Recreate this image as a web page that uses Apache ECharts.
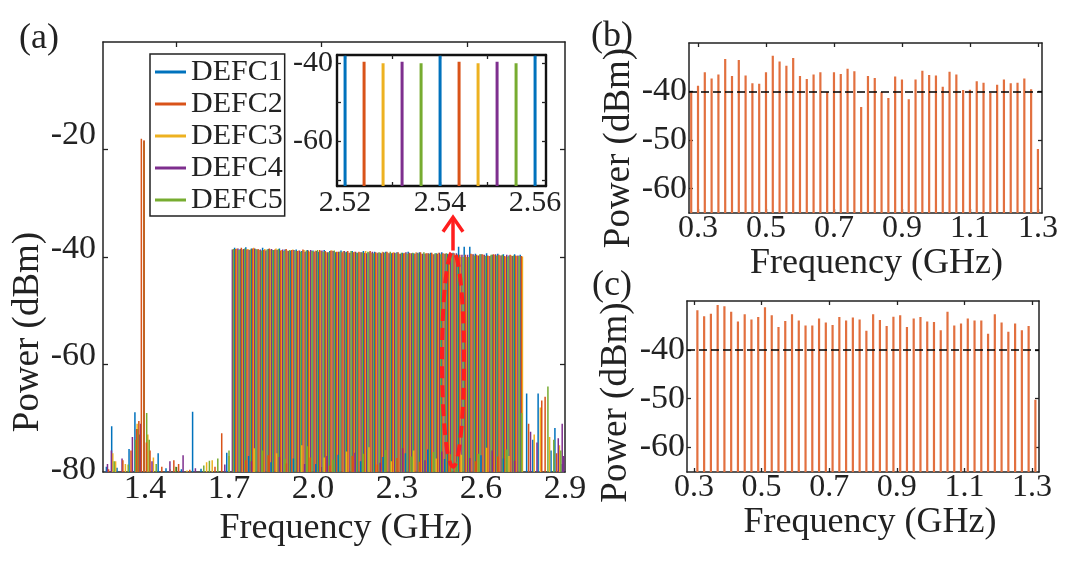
<!DOCTYPE html>
<html><head><meta charset="utf-8">
<script src="https://cdn.jsdelivr.net/npm/echarts@6/dist/echarts.min.js"></script>
<style>html,body{margin:0;padding:0;background:#fff}#c{width:1080px;height:562px}</style>
</head><body><div id="c"></div>
<script>
// ---------------- data ----------------
const seriesNames = ['DEFC1', 'DEFC2', 'DEFC3', 'DEFC4', 'DEFC5'];
const seriesColors = ['#0072BD', '#D95319', '#EDB120', '#7E2F8E', '#77AC30'];

// comb line frequencies of DEFC1 (GHz) and interleave offset of each DEFC (GHz)
const combBaseGHz = [1.72,1.74,1.76,1.78,1.80,1.82,1.84,1.86,1.88,1.90,
  1.92,1.94,1.96,1.98,2.00,2.02,2.04,2.06,2.08,2.10,
  2.12,2.14,2.16,2.18,2.20,2.22,2.24,2.26,2.28,2.30,
  2.32,2.34,2.36,2.38,2.40,2.42,2.44,2.46,2.48,2.50,
  2.52,2.54,2.56,2.58,2.60,2.62,2.64,2.66,2.68,2.70,2.72,2.74];
const combOffsetGHz = [0, 0.004, 0.008, -0.008, -0.004];

const combDefc1 = [-38.3,-38.5,-38.2,-38.4,-38.6,-38.3,-38.5,-38.7,-38.4,-38.6,
  -38.8,-38.6,-38.9,-38.7,-38.8,-39.0,-38.7,-38.9,-39.1,-38.8,
  -39.0,-38.9,-39.2,-38.9,-39.1,-39.0,-39.2,-39.0,-39.3,-39.1,
  -39.2,-39.0,-39.3,-39.1,-39.4,-39.2,-39.3,-39.1,-39.4,-39.2,
  -38.1,-38.1,-38.1,-39.4,-39.5,-39.3,-39.6,-39.4,-39.5,-39.7,-39.5,-39.6];
const combDefc2 = [-38.5,-38.3,-38.6,-38.4,-38.5,-38.7,-38.4,-38.6,-38.8,-38.5,
  -38.7,-38.9,-38.6,-38.8,-39.0,-38.7,-38.9,-38.8,-39.0,-39.1,
  -38.9,-39.1,-39.0,-39.2,-38.9,-39.1,-39.3,-39.0,-39.2,-39.1,
  -39.3,-39.2,-39.4,-39.1,-39.3,-39.2,-39.4,-39.3,-39.5,-39.3,
  -39.6,-39.6,-39.4,-39.6,-39.5,-39.7,-39.5,-39.6,-39.8,-39.6,-39.7,-39.8];
const combDefc3 = [-38.4,-38.6,-38.5,-38.3,-38.7,-38.5,-38.6,-38.4,-38.7,-38.8,
  -38.6,-38.8,-38.7,-39.0,-38.8,-38.9,-39.1,-38.8,-39.0,-38.9,
  -39.2,-39.0,-39.1,-38.9,-39.2,-39.3,-39.0,-39.2,-39.1,-39.4,
  -39.2,-39.3,-39.1,-39.4,-39.3,-39.5,-39.2,-39.4,-39.3,-39.6,
  -40.0,-40.0,-39.5,-39.7,-39.6,-39.8,-39.6,-39.7,-39.9,-39.7,-39.8,-39.9];
const combDefc4 = [-38.6,-38.4,-38.5,-38.7,-38.4,-38.6,-38.8,-38.5,-38.7,-38.6,
  -38.9,-38.7,-38.8,-39.0,-38.7,-38.9,-38.8,-39.1,-38.9,-39.0,
  -38.9,-39.2,-39.0,-39.1,-39.3,-39.0,-39.2,-39.1,-39.3,-39.2,
  -39.4,-39.1,-39.3,-39.2,-39.4,-39.3,-39.5,-39.2,-39.4,-39.5,
  -39.3,-39.6,-39.6,-39.5,-39.7,-39.6,-39.8,-39.5,-39.7,-39.6,-39.8,-39.7];
const combDefc5 = [-38.5,-38.7,-38.4,-38.6,-38.5,-38.8,-38.6,-38.7,-38.5,-38.9,
  -38.7,-38.8,-39.0,-38.8,-38.9,-38.7,-39.0,-39.1,-38.8,-39.0,
  -39.1,-38.9,-39.2,-39.1,-39.0,-39.3,-39.1,-39.2,-39.0,-39.3,
  -39.2,-39.4,-39.2,-39.3,-39.1,-39.4,-39.3,-39.5,-39.3,-39.4,
  -39.6,-40.0,-40.0,-39.7,-39.5,-39.8,-39.6,-39.7,-39.6,-39.9,-39.7,-39.8];

// residual spectral lines outside the comb: [GHz, dBm]
const otherDefc1 = [[1.262,-79.0],[1.281,-71.5],[1.300,-79.2],[1.343,-75.7],[1.364,-68.9],[1.380,-73.0],[1.3965,-18.6],
  [1.447,-76.5],[1.475,-79.3],[1.530,-79.5],[1.570,-68.8],[1.600,-79.4],[1.692,-76.4],[1.770,-77.0],[1.850,-78.2],
  [1.930,-77.5],[2.010,-78.5],[2.090,-76.8],[2.170,-78.0],[2.250,-77.2],[2.330,-76.5],[2.410,-75.8],[2.470,-77.6],
  [2.600,-76.9],[2.680,-77.5],[2.763,-65.4],[2.785,-74.0],[2.804,-65.4],[2.850,-76.0],[2.864,-71.8],[2.890,-78.5]];
const otherDefc2 = [[1.270,-79.5],[1.321,-77.8],[1.350,-76.0],[1.370,-72.0],[1.378,-70.5],[1.387,-18.0],[1.3965,-18.3],[1.405,-74.5],
  [1.418,-76.0],[1.460,-79.0],[1.503,-77.8],[1.520,-78.5],[1.560,-79.6],[1.650,-79.0],[1.674,-72.8],[1.760,-77.8],
  [1.840,-76.9],[1.905,-78.4],[1.990,-77.3],[2.060,-78.8],[2.140,-77.0],[2.230,-78.6],[2.300,-77.4],[2.380,-78.1],
  [2.490,-76.7],[2.580,-78.0],[2.660,-77.1],[2.770,-71.0],[2.817,-66.7],[2.829,-66.0],[2.870,-76.5]];
const otherDefc3 = [[1.285,-76.5],[1.295,-78.0],[1.330,-78.5],[1.372,-71.0],[1.3962,-18.6],[1.410,-73.0],[1.430,-77.3],
  [1.490,-79.5],[1.550,-79.7],[1.620,-78.2],[1.640,-77.8],[1.700,-77.0],[1.790,-75.6],[1.870,-76.5],[1.960,-75.0],
  [2.040,-77.3],[2.120,-76.2],[2.200,-75.4],[2.280,-78.0],[2.360,-76.0],[2.440,-77.5],[2.530,-76.8],[2.620,-75.5],
  [2.700,-77.0],[2.790,-73.0],[2.812,-68.0],[2.845,-73.5],[2.880,-75.0]];
const otherDefc4 = [[1.266,-78.5],[1.280,-76.0],[1.318,-77.5],[1.355,-73.5],[1.384,-71.0],[1.397,-18.4],[1.425,-78.0],
  [1.489,-78.0],[1.536,-76.9],[1.580,-79.3],[1.685,-78.6],[1.780,-78.0],[1.880,-77.2],[1.970,-78.5],[2.050,-77.0],
  [2.150,-76.4],[2.240,-78.3],[2.320,-75.6],[2.400,-77.8],[2.460,-76.2],[2.560,-77.4],[2.640,-76.0],[2.720,-77.9],
  [2.777,-72.5],[2.800,-74.5],[2.876,-73.7],[2.890,-71.0],[2.895,-77.0]];
const otherDefc5 = [[1.290,-78.0],[1.340,-78.6],[1.366,-74.0],[1.374,-72.0],[1.3968,-18.5],[1.406,-69.0],[1.415,-74.0],
  [1.440,-78.5],[1.510,-79.0],[1.610,-78.8],[1.630,-77.9],[1.660,-77.5],[1.700,-76.0],[1.820,-76.0],[1.900,-77.6],
  [1.980,-75.2],[2.070,-77.7],[2.180,-76.6],[2.260,-75.9],[2.350,-77.1],[2.430,-76.3],[2.510,-78.2],[2.590,-76.6],
  [2.690,-75.8],[2.745,-69.0],[2.839,-64.1],[2.860,-74.0],[2.885,-76.0]];

// panel (b) and (c)
const bFreqGHz = [0.28,0.30,0.32,0.34,0.36,0.38,0.40,0.42,0.44,0.46,0.48,0.50,0.52,0.54,0.56,0.58,0.60,0.62,0.64,0.66,
  0.68,0.70,0.72,0.74,0.76,0.78,0.80,0.82,0.84,0.86,0.88,0.90,0.92,0.94,0.96,0.98,1.00,1.02,1.04,1.06,
  1.08,1.10,1.12,1.14,1.16,1.18,1.20,1.22,1.24,1.26,1.28,1.30];
const bPowerDbm = [-40.1,-38.8,-36.0,-37.3,-36.5,-33.3,-36.8,-33.5,-36.7,-38.3,-38.4,-36.0,-32.6,-33.8,-34.7,-33.1,
  -36.8,-37.4,-36.5,-36.0,-40.1,-36.0,-36.4,-35.3,-35.8,-43.2,-36.8,-37.2,-40.1,-41.3,-36.9,-37.5,-41.6,-37.5,
  -35.7,-36.6,-36.7,-39.0,-35.9,-36.5,-39.7,-39.6,-37.9,-38.2,-40.3,-38.6,-37.5,-38.3,-38.2,-37.3,-39.5,-51.8];
const cFreqGHz = [0.31,0.33,0.35,0.37,0.39,0.41,0.43,0.45,0.47,0.49,0.51,0.53,0.55,0.57,0.59,0.61,0.63,0.65,0.67,0.69,
  0.71,0.73,0.75,0.77,0.79,0.81,0.83,0.85,0.87,0.89,0.91,0.93,0.95,0.97,0.99,1.01,1.03,1.05,1.07,1.09,
  1.11,1.13,1.15,1.17,1.19,1.21,1.23,1.25,1.27,1.29,1.31];
const cPowerDbm = [-31.9,-33.1,-32.6,-30.8,-31.1,-32.2,-34.2,-32.7,-33.8,-33.3,-31.3,-32.9,-35.3,-34.1,-32.7,-34.0,
  -35.0,-35.0,-33.6,-34.4,-34.9,-33.3,-34.0,-33.4,-33.8,-36.1,-32.7,-33.9,-35.1,-33.2,-32.9,-35.3,-33.6,-33.3,
  -34.2,-34.3,-36.0,-32.2,-35.0,-34.6,-33.6,-34.0,-34.0,-36.7,-32.7,-34.4,-36.3,-34.6,-36.0,-35.1,-50.2];
const refLevelDbm = -40;

// ticks / labels
const aXLabels = [1.4, 1.7, 2.0, 2.3, 2.6, 2.9];
const aXTicks = [1.51, 2.03, 2.55];
const aYLabels = [-80, -60, -40, -20];
const aYTicks = [-60, -40, -20];
const insetXLabels = [2.52, 2.54, 2.56];
const insetXTicks = [2.52, 2.53, 2.54, 2.55, 2.56];
const insetYLabels = [-60, -40];
const insetYTicks = [-70, -60, -50, -40];
const bcXLabels = [0.3, 0.5, 0.7, 0.9, 1.1, 1.3];
const bcYLabels = [-60, -50, -40];

// ---------------- chart ----------------
const FONT = '"Liberation Serif","Times New Roman",Times,serif';
const INK = '#222';
const chart = echarts.init(document.getElementById('c'), null, {renderer: 'canvas'});

const combs = [combDefc1, combDefc2, combDefc3, combDefc4, combDefc5];
const others = [otherDefc1, otherDefc2, otherDefc3, otherDefc4, otherDefc5];
const combData = i => combBaseGHz.map((f, k) => [f + combOffsetGHz[i], combs[i][k]]);

function stick(width) {
  return function (params, api) {
    const x = api.value(0), y = api.value(1);
    const p1 = api.coord([x, y]);
    const p0 = api.coord([x, -300]);
    return {type: 'line', shape: {x1: p1[0], y1: p1[1], x2: p0[0], y2: p0[1]},
      style: {stroke: api.visual('color'), lineWidth: width}};
  };
}

const axLine = {show: true, onZero: false, lineStyle: {color: INK, width: 1.5}};
function tick(vals, len) {
  return {show: true, inside: true, length: len || 5, customValues: vals, lineStyle: {color: INK, width: 1.3}};
}
function lbl(vals, size, margin, fmt, extra) {
  return Object.assign({show: true, customValues: vals, fontFamily: FONT, fontSize: size, color: INK,
    margin: margin, formatter: fmt}, extra || {});
}
const noLabel = {show: false};
const noSplit = {show: false};

function xPair(g, min, max, labelVals, tickVals, size, margin, fmt, name, nameGap, nameShift, tickLen) {
  return [
    {type: 'value', gridIndex: g, min, max, position: 'bottom', axisLine: axLine, splitLine: noSplit,
      axisTick: tick(tickVals, tickLen), axisLabel: lbl(labelVals, size, margin, fmt),
      name: name || '', nameLocation: 'middle', nameGap: nameGap || 0,
      nameTextStyle: {fontFamily: FONT, fontSize: 36, color: INK, padding: [0, 0, 0, nameShift || 0]}},
    {type: 'value', gridIndex: g, min, max, position: 'top', axisLine: axLine, splitLine: noSplit,
      axisTick: tick(tickVals, tickLen), axisLabel: noLabel}
  ];
}
function yPair(g, min, max, labelVals, tickVals, size, margin, fmt, name, nameGap, nameShift, tickLen, lblExtra) {
  return [
    {type: 'value', gridIndex: g, min, max, position: 'left', axisLine: axLine, splitLine: noSplit,
      axisTick: tick(tickVals, tickLen), axisLabel: lbl(labelVals, size, margin, fmt, lblExtra),
      name: name || '', nameLocation: 'middle', nameGap: nameGap || 0,
      nameTextStyle: {fontFamily: FONT, fontSize: 37, color: INK, padding: [0, 0, 0, nameShift || 0]}},
    {type: 'value', gridIndex: g, min, max, position: 'right', axisLine: axLine, splitLine: noSplit,
      axisTick: tick(tickVals, tickLen), axisLabel: noLabel}
  ];
}

const f1 = v => v.toFixed(1);
const f2 = v => v.toFixed(2);
const f0 = v => String(v);
// small per-label lift used by panel (a) y labels
const liftRich = {};
[0, 4, 8, 12, 16, 20, 24, 28].forEach(p => {
  liftRich['p' + p] = {fontFamily: FONT, fontSize: 34, color: INK, padding: [0, 0, p, 0]};
});
const aYLift = {'-80': 4, '-60': 16, '-40': 16, '-20': 28};
const aYFmt = v => '{p' + (aYLift[String(v)] || 0) + '|' + v + '}';

const xAxes = [].concat(
  xPair(0, 1.25, 2.9, aXLabels, aXTicks, 34, 0, f1, 'Frequency (GHz)', 31, 24, 5),
  xPair(1, 2.5183, 2.5623, insetXLabels, insetXTicks, 30, 2, f2, '', 0, 0, 4),
  xPair(2, 0.2735, 1.312, bcXLabels, bcXLabels, 32, 0, f1, 'Frequency (GHz)', 30, 22, 4),
  xPair(3, 0.2793, 1.3207, bcXLabels, bcXLabels, 32, 0, f1, 'Frequency (GHz)', 31, 14, 4)
);
const yAxes = [].concat(
  yPair(0, -80, 0, aYLabels, aYTicks, 34, 7, aYFmt, 'Power (dBm)', 48, -150, 5, {rich: liftRich}),
  yPair(1, -71.5, -37.9, insetYLabels, insetYTicks, 30, 4, f0, '', 0, 0, 4),
  yPair(2, -65, -30, bcYLabels, bcYLabels, 34, 2, f0, 'Power (dBm)', 46, -40, 4),
  yPair(3, -65, -30, bcYLabels, bcYLabels, 34, 2, f0, 'Power (dBm)', 52, -32, 4)
);
// inset box is thicker
[xAxes[2], xAxes[3], yAxes[2], yAxes[3]].forEach(a => { a.axisLine = {show: true, onZero: false, lineStyle: {color: '#111', width: 2.4}}; });

// draw order: DEFC2 (orange) is laid on top, as in the reference; residual lines over the combs
const drawOrder = [0, 2, 3, 4, 1];
const series = [];
drawOrder.forEach(i => {
  series.push({type: 'custom', name: seriesNames[i], xAxisIndex: 0, yAxisIndex: 0, clip: true,
    itemStyle: {color: seriesColors[i]}, renderItem: stick(1.5), data: combData(i)});
});
drawOrder.forEach(i => {
  series.push({type: 'custom', name: seriesNames[i], xAxisIndex: 0, yAxisIndex: 0, clip: true,
    itemStyle: {color: seriesColors[i]}, renderItem: stick(1.5), data: others[i]});
});
seriesNames.forEach((n, i) => {
  series.push({type: 'custom', name: n, xAxisIndex: 2, yAxisIndex: 2, clip: true, z: 6,
    itemStyle: {color: seriesColors[i]}, renderItem: stick(3), data: combData(i)});
});
const refLine = {silent: true, symbol: 'none', label: {show: false}, animation: false,
  lineStyle: {color: '#000', type: [8, 4], width: 1.6}, data: [{yAxis: refLevelDbm}]};
series.push({type: 'custom', name: 'b', xAxisIndex: 4, yAxisIndex: 4, clip: true,
  itemStyle: {color: '#E2703F'}, renderItem: stick(2.2),
  data: bFreqGHz.map((f, k) => [f, bPowerDbm[k]]), markLine: refLine});
series.push({type: 'custom', name: 'c', xAxisIndex: 6, yAxisIndex: 6, clip: true,
  itemStyle: {color: '#E2703F'}, renderItem: stick(2.2),
  data: cFreqGHz.map((f, k) => [f, cPowerDbm[k]]), markLine: refLine});

function panelLabel(id, text, left, top) {
  return {type: 'text', id, left, top, z: 100,
    style: {text, fontFamily: FONT, fontSize: 36, fill: INK}};
}

chart.setOption({
  animation: false,
  backgroundColor: '#fff',
  grid: [
    {left: 103, top: 42, width: 462, height: 430, outerBoundsMode: 'none'},
    {left: 337, top: 55, width: 209, height: 131, outerBoundsMode: 'none', show: true, backgroundColor: '#fff', borderWidth: 0},
    {left: 689, top: 43, width: 353, height: 170, outerBoundsMode: 'none'},
    {left: 687, top: 301, width: 352, height: 171, outerBoundsMode: 'none'}
  ],
  xAxis: xAxes,
  yAxis: yAxes,
  legend: {
    data: seriesNames, orient: 'vertical', left: 150, top: 54, icon: 'rect', itemWidth: 31, itemHeight: 3,
    itemGap: 2, padding: [3, 2, 1, 5], backgroundColor: '#fff', borderColor: INK, borderWidth: 1.5,
    textStyle: {fontFamily: FONT, fontSize: 30, lineHeight: 30, color: INK}, selectedMode: false, z: 10
  },
  series,
  graphic: [
    panelLabel('la', '(a)', 19, 21),
    panelLabel('lb', '(b)', 591, 19),
    panelLabel('lc', '(c)', 592, 268)
  ]
});

// red annotation: dashed ellipse around one comb line group, with arrow to the inset
const toPx = v => chart.convertToPixel({xAxisIndex: 0, yAxisIndex: 0}, v);
const eTop = toPx([2.50, -39]), eBot = toPx([2.50, -79]);
const aTip = toPx([2.50, -32.6]), aBase = toPx([2.50, -38.8]), aWing = toPx([2.50, -35.3]);
const RED = '#FF1E1E';
chart.setOption({
  graphic: [
    {type: 'ellipse', id: 'ell', z: 50,
      shape: {cx: eTop[0], cy: (eTop[1] + eBot[1]) / 2, rx: 11, ry: (eBot[1] - eTop[1]) / 2},
      style: {fill: 'none', stroke: RED, lineWidth: 4, lineDash: [12, 7]}},
    {type: 'polyline', id: 'shaft', z: 50, shape: {points: [[aTip[0], aTip[1] + 1], [aBase[0], aBase[1]]]},
      style: {stroke: RED, lineWidth: 3.5, fill: 'none'}},
    {type: 'polyline', id: 'head', z: 50,
      shape: {points: [[aTip[0] - 10, aWing[1]], [aTip[0], aTip[1]], [aTip[0] + 10, aWing[1]]]},
      style: {stroke: RED, lineWidth: 3.5, fill: 'none', lineJoin: 'miter'}}
  ]
});
</script>
</body></html>
